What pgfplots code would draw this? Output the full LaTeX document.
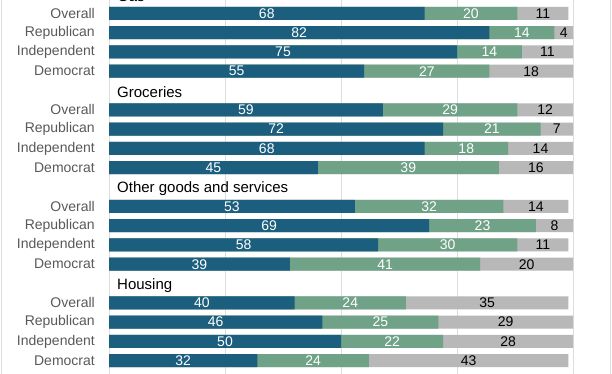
\documentclass[border=0pt]{standalone}
\usepackage{fontspec}
\setmainfont{Liberation Sans}
\usepackage{pgfplots}
\usepackage{pgfplotstable}
\pgfplotsset{compat=1.18}
\definecolor{cblue}{HTML}{1B5E7E}
\definecolor{cgreen}{HTML}{6FA287}
\definecolor{cgrey}{HTML}{B8B8B8}
\definecolor{labgrey}{HTML}{595959}
\definecolor{gridgrey}{HTML}{DDDDDD}
\pgfplotstableread{
row a  b  c
0   68 20 11
1   82 14 4
2   75 14 11
3   55 27 18
5   59 29 12
6   72 21 7
7   68 18 14
8   45 39 16
10  53 32 14
11  69 23 8
12  58 30 11
13  39 41 20
15  40 24 35
16  46 25 29
17  50 22 28
18  32 24 43
}\datatable
\pgfplotsset{
  mybar/.style={xbar, bar width=13bp, bar shift=0pt, draw=none},
  mylab/.style={draw=none, mark=none, nodes near coords, point meta=explicit symbolic,
    every node near coord/.append style={anchor=center, inner sep=0pt, font=\fontsize{14bp}{16bp}\selectfont, text=#1}},
}
\begin{document}
\begin{tikzpicture}
\useasboundingbox (0,0) rectangle (612bp,374bp);
\clip (0,0) rectangle (612bp,374bp);
\fill[white] (0,0) rectangle (612bp,374bp);
\begin{axis}[
  at={(109bp,0bp)}, anchor=south west,
  scale only axis, width=464bp, height=374bp,
  xmin=0, xmax=100, ymin=-0.69, ymax=18.69, y dir=reverse,
  enlargelimits=false,
  axis line style={draw=none},
  major tick length=0pt,
  xtick={0,25,50,75,100}, xticklabels={},
  xmajorgrids, grid style={gridgrey, line width=0.8bp},
  ytick={0,1,2,3,5,6,7,8,10,11,12,13,15,16,17,18},
  yticklabels={Overall,Republican,Independent,Democrat,Overall,Republican,Independent,Democrat,Overall,Republican,Independent,Democrat,Overall,Republican,Independent,Democrat},
  every y tick label/.append style={inner sep=0pt, xshift=-14bp, text=labgrey, font=\fontsize{14bp}{16bp}\selectfont},
  clip=false,
]
\addplot[mybar, fill=cgrey] table[x expr=\thisrow{a}+\thisrow{b}+\thisrow{c}, y=row] {\datatable};
\addplot[mybar, fill=cgreen] table[x expr=\thisrow{a}+\thisrow{b}, y=row] {\datatable};
\addplot[mybar, fill=cblue] table[x=a, y=row] {\datatable};
\addplot[mylab=white] table[x expr=\thisrow{a}/2, y=row, meta=a] {\datatable};
\addplot[mylab=white] table[x expr=\thisrow{a}+\thisrow{b}/2, y=row, meta=b] {\datatable};
\addplot[mylab=black] table[x expr=\thisrow{a}+\thisrow{b}+\thisrow{c}/2, y=row, meta=c] {\datatable};
\begin{scope}[every node/.style={anchor=west, inner sep=0pt, font=\fontsize{15bp}{17bp}\selectfont, text=black}]
\node at (axis cs:0,-1) [xshift=8bp, yshift=-2.5bp] {Gas};
\node at (axis cs:0,4) [xshift=8bp, yshift=-2bp] {Groceries};
\node at (axis cs:0,9) [xshift=8bp, yshift=-2bp] {Other goods and services};
\node at (axis cs:0,14) [xshift=8bp, yshift=-2bp] {Housing};
\end{scope}
\end{axis}
\draw[gridgrey, line width=1.2bp] (1.2bp,0) -- (1.2bp,374bp);
\draw[gridgrey, line width=1.2bp] (610.8bp,0) -- (610.8bp,374bp);
\end{tikzpicture}
\end{document}
